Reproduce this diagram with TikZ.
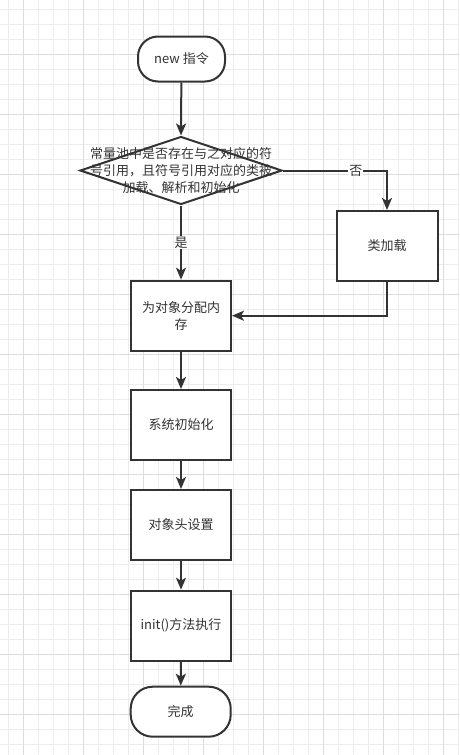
\documentclass[tikz,border=0pt]{standalone}
\usepackage{fontspec}
\setmainfont{Noto Sans CJK SC}
\usetikzlibrary{shapes.geometric,arrows.meta}
\definecolor{ink}{HTML}{333333}
\definecolor{gminor}{HTML}{EDEDED}
\definecolor{gmajor}{HTML}{DDDDDD}
\tikzset{
  gridminor/.style={draw=gminor,line width=1pt},
  gridmajor/.style={draw=gmajor,line width=1pt},
  txt/.style={text=ink,font=\fontsize{13}{17}\selectfont,align=center},
  procbox/.style={txt,draw=ink,line width=2pt,fill=white,minimum width=100,minimum height=70,inner sep=0pt},
  termbox/.style={txt,draw=ink,line width=2pt,fill=white,inner sep=0pt},
  decbox/.style={diamond,draw=ink,line width=2pt,fill=white,minimum width=202,minimum height=68,inner sep=0pt},
  flow/.style={draw=ink,line width=2pt,-{Stealth[length=12pt,width=10pt,inset=3pt]}},
  edgelabel/.style={txt,fill=white,inner sep=1pt}
}
\begin{document}
\begin{tikzpicture}[x=1pt,y=-1pt]
\useasboundingbox (0,0) rectangle (459,755);
\fill[white] (0,0) rectangle (459,755);
\foreach \i in {0,...,30} {\draw[gridminor] ({8.3+15*\i},0) -- ++(0,755);}
\foreach \i in {0,...,50} {\draw[gridminor] (0,{9.3+15*\i}) -- ++(459,0);}
\foreach \i in {0,...,7} {\draw[gridmajor] ({23.3+60*\i},0) -- ++(0,755);}
\foreach \i in {0,...,11} {\draw[gridmajor] (0,{54.3+60*\i}) -- ++(459,0);}

\node[termbox,minimum width=87,minimum height=45,rounded corners=20pt] (start) at (181.5,59) {new 指令};
\node[decbox] (dec) at (181,170.5) {};
\node[txt] (dectext) at (181,170.5) {常量池中是否存在与之对应的符\\号引用，且符号引用对应的类被\\加载、解析和初始化};
\node[procbox,minimum width=101,minimum height=70] (load) at (387,246) {类加载};
\node[procbox] (alloc) at (181,315.7) {为对象分配内\\存};
\node[procbox] (init) at (181,425) {系统初始化};
\node[procbox] (head) at (181,525) {对象头设置};
\node[procbox] (clinit) at (181,625.7) {init()方法执行};
\node[termbox,minimum width=100,minimum height=50,rounded corners=22pt] (done) at (180.7,711.7) {完成};

\draw[flow] (start) -- (dec.north);
\draw[flow] (dec.south) -- node[edgelabel,pos=0.5] (yes) {是} (alloc.north);
\draw[flow] (dec.east) -| node[edgelabel,pos=0.35] (no) {否} (load.north);
\draw[flow] (load.south) |- (alloc.east);
\draw[flow] (alloc) -- (init);
\draw[flow] (init) -- (head);
\draw[flow] (head) -- (clinit);
\draw[flow] (clinit) -- (done);
\end{tikzpicture}
\end{document}
